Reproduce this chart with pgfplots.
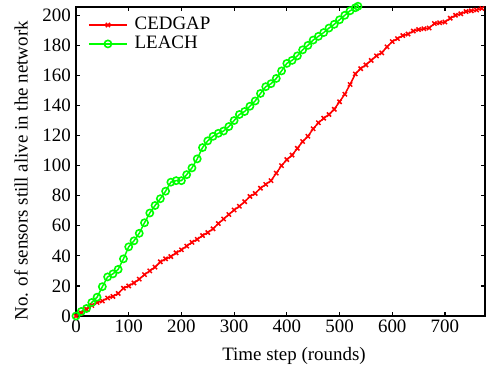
\documentclass[border=0pt]{standalone}
\usepackage{pgfplots}
\pgfplotsset{compat=1.18}
\usepackage{fontspec}
\setmainfont{Liberation Serif}
\definecolor{cedred}{RGB}{255,0,0}
\definecolor{leachgreen}{RGB}{0,255,0}
\begin{document}
\fontsize{19}{22}\selectfont
\begin{tikzpicture}
\path (-76bp,-54bp) rectangle (410bp,316bp);
\begin{axis}[
  at={(0,0)}, anchor=south west,
  scale only axis, width=409bp, height=309bp,
  xmin=0, xmax=776, ymin=0, ymax=205.5,
  xtick={0,100,...,700}, ytick={0,20,...,200},
  tick align=inside, major tick length=4bp,
  axis line style={line width=1.5bp},
  every tick/.style={black, line width=1.2bp},
  /pgf/number format/assume math mode=true,
  tick label style={font=\fontsize{19}{22}\selectfont},
  xticklabel style={inner sep=3.5bp},
  yticklabel style={inner sep=5bp},
  xlabel={Time step (rounds)},
  ylabel={No. of sensors still alive in the network},
  xlabel style={at={(axis description cs:0.533,-0.13)}, anchor=center},
  ylabel style={at={(axis description cs:-0.134,0.47)}, anchor=center},
  clip=false,
  legend style={at={(axis description cs:0.022,0.98)}, anchor=north west, draw=none, fill=none, font=\fontsize{19}{22}\selectfont, row sep=-0.5bp},
  legend cell align=left,
  legend image code/.code={
    \draw[mark repeat=2,mark phase=2,#1] plot coordinates {(0bp,0bp) (19bp,0bp) (38bp,0bp)};
    \path (43bp,0bp);
  },
]
\addplot[color=cedred, line width=1.5bp, mark=x, mark size=3bp, mark options={line width=1.5bp}] coordinates {
(0,0) (10,2) (20,4.5) (30,7) (40,9) (50,10) (60,12) (70,13) (80,15) (90,18.5)
(100,20) (110,22) (120,24.5) (130,27.5) (140,30) (150,32.5) (160,36) (170,38) (180,39.5) (190,42)
(200,44) (210,46.5) (220,49) (230,51) (240,53.5) (250,55.5) (260,58) (270,61.5) (280,64.5) (290,67.5)
(300,70.5) (310,73) (320,76) (330,79.5) (340,81.5) (350,85) (360,87.5) (370,90) (380,95) (390,100)
(400,104) (410,107) (420,111.5) (430,116) (440,119.5) (450,124.5) (460,128.5) (470,131.5) (480,134) (490,137.5)
(500,142.5) (510,147.5) (520,154) (530,161) (540,164.5) (550,167) (560,170) (570,173) (580,175) (590,179)
(600,182.5) (610,184.5) (620,186.5) (630,187.5) (640,189.5) (650,190.5) (660,191) (670,191.5) (680,194.5) (690,195)
(700,195.5) (710,198) (720,200) (730,201) (740,202.5) (750,203) (760,203.5) (770,204.5)
};
\addlegendentry{CEDGAP}
\addplot[color=leachgreen, line width=1.5bp, mark=o, mark size=3.6bp, mark options={line width=1.6bp}] coordinates {
(0,0) (10,3) (20,5) (30,9) (40,12.5) (50,19.5) (60,26) (70,28) (80,31) (90,38)
(100,46) (110,50) (120,55) (130,62) (140,68.5) (150,73.5) (160,78) (170,83) (180,89) (190,90)
(200,90) (210,94) (220,98.5) (230,104.5) (240,112) (250,116.5) (260,119.5) (270,121.5) (280,123) (290,126)
(300,130) (310,134) (320,136) (330,139.5) (340,143) (350,148) (360,152.5) (370,154.5) (380,158) (390,163)
(400,168) (410,170) (420,173) (430,177) (440,180) (450,183.5) (460,186) (470,188.5) (480,191.5) (490,194)
(500,197) (510,200) (520,203) (530,205) (535,206)
};
\addlegendentry{LEACH}
\end{axis}
\end{tikzpicture}
\end{document}
